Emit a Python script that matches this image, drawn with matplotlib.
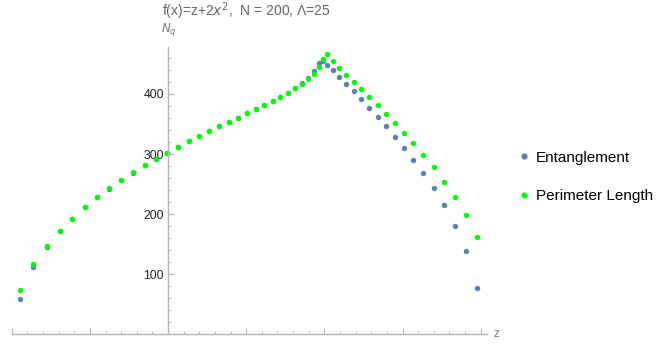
import matplotlib
matplotlib.use("Agg")
import matplotlib.pyplot as plt
from matplotlib.ticker import MultipleLocator, NullFormatter

plt.rcParams['font.family'] = ['Liberation Sans', 'DejaVu Sans']

# z positions (axis has no tick labels, unit = one major tick)
z = [-1.889, -1.722, -1.551, -1.381, -1.224, -1.061, -0.904, -0.751, -0.597,
     -0.448, -0.298, -0.153, -0.013, 0.132, 0.265, 0.396, 0.524, 0.652,
     0.778, 0.895, 1.010, 1.121, 1.232, 1.339, 1.436, 1.535, 1.628, 1.717,
     1.790, 1.863, 1.931, 1.976, 2.037, 2.116, 2.191, 2.280, 2.375, 2.472,
     2.574, 2.682, 2.788, 2.903, 3.018, 3.137, 3.267, 3.398, 3.533, 3.670,
     3.807, 3.951]

perimeter = [73.8, 117.2, 147.2, 172.2, 192.7, 211.7, 228.3, 242.7, 257.2,
             269.3, 281.7, 291.7, 302.2, 312.2, 321.7, 330.0, 338.3, 346.0,
             353.3, 360.5, 367.7, 374.3, 381.7, 388.3, 395.0, 401.7, 409.3,
             417.2, 425.0, 433.3, 445.5, 458.8, 466.3, 454.7, 443.8, 431.7,
             420.0, 408.3, 395.0, 381.0, 366.7, 351.7, 335.0, 317.7, 298.8,
             277.7, 254.3, 228.5, 198.3, 162.2]

entanglement = [58.8, 111.7, 145.0, 172.0, 192.5, 211.5, 228.0, 242.5, 257.0,
                269.0, 281.5, 291.5, 302.0, 312.0, 321.5, 330.0, 338.3, 346.0,
                353.3, 360.5, 367.7, 374.3, 381.7, 388.3, 395.0, 401.7, 409.5,
                417.5, 427.2, 438.3, 451.7, 454.7, 448.3, 439.2, 428.5, 416.7,
                404.3, 391.0, 376.7, 361.7, 346.0, 328.8, 310.5, 290.0, 267.7,
                242.7, 214.7, 181.0, 139.3, 76.7]

W, H = 664, 353
fig = plt.figure(figsize=(W / 100, H / 100), dpi=100)
ax = fig.add_axes([11.7 / W, (H - 334.3) / H, (487 - 11.7) / W, (334.3 - 46.5) / H])

ax.plot(z, entanglement, 'o', color='#5E81B5', markersize=3.9, markeredgewidth=0,
        label='Entanglement', clip_on=False)
ax.plot(z, perimeter, 'o', color='#00FF00', markersize=3.9, markeredgewidth=0,
        label='Perimeter Length', clip_on=False)

ax.set_xlim(-2.0, 4.08)
ax.set_ylim(0, 479)

axcol = '#b5b5b5'
for s in ['top', 'right']:
    ax.spines[s].set_visible(False)
ax.spines['left'].set_position(('data', 0))
ax.spines['bottom'].set_position(('data', 0))
for s in ['left', 'bottom']:
    ax.spines[s].set_color(axcol)
    ax.spines[s].set_linewidth(1.0)

ax.xaxis.set_major_locator(MultipleLocator(1))
ax.xaxis.set_minor_locator(MultipleLocator(0.2))
ax.xaxis.set_major_formatter(NullFormatter())
ax.yaxis.set_major_locator(MultipleLocator(100))
ax.yaxis.set_minor_locator(MultipleLocator(20))
ax.set_yticks([100, 200, 300, 400])
ax.tick_params(axis='both', which='major', direction='in', length=4.2, width=0.8,
               color=axcol, labelsize=8.8, labelcolor='#222222', pad=3)
ax.tick_params(axis='both', which='minor', direction='in', length=2.2, width=0.6,
               color=axcol)

fig.text(493 / W, 1 - 334 / H, 'z', fontsize=8.5, color='#777777',
         ha='left', va='center')
fig.text(161 / W, 1 - 29.5 / H, r'$N_q$', fontsize=8.5, color='#777777',
         ha='left', va='center')
fig.text(162 / W, 1 - 11 / H, r'f(x)=z+2$x^2$,  N = 200, Λ=25', fontsize=10,
         color='#666666', ha='left', va='center')

ax.legend(loc='center left', bbox_to_anchor=(507 / W, 1 - 177 / H),
          bbox_transform=fig.transFigure, frameon=False, fontsize=11,
          handletextpad=0.2, labelspacing=1.6, markerscale=1.15,
          handlelength=1.2, borderpad=0)

fig.savefig('out.png', dpi=100)
